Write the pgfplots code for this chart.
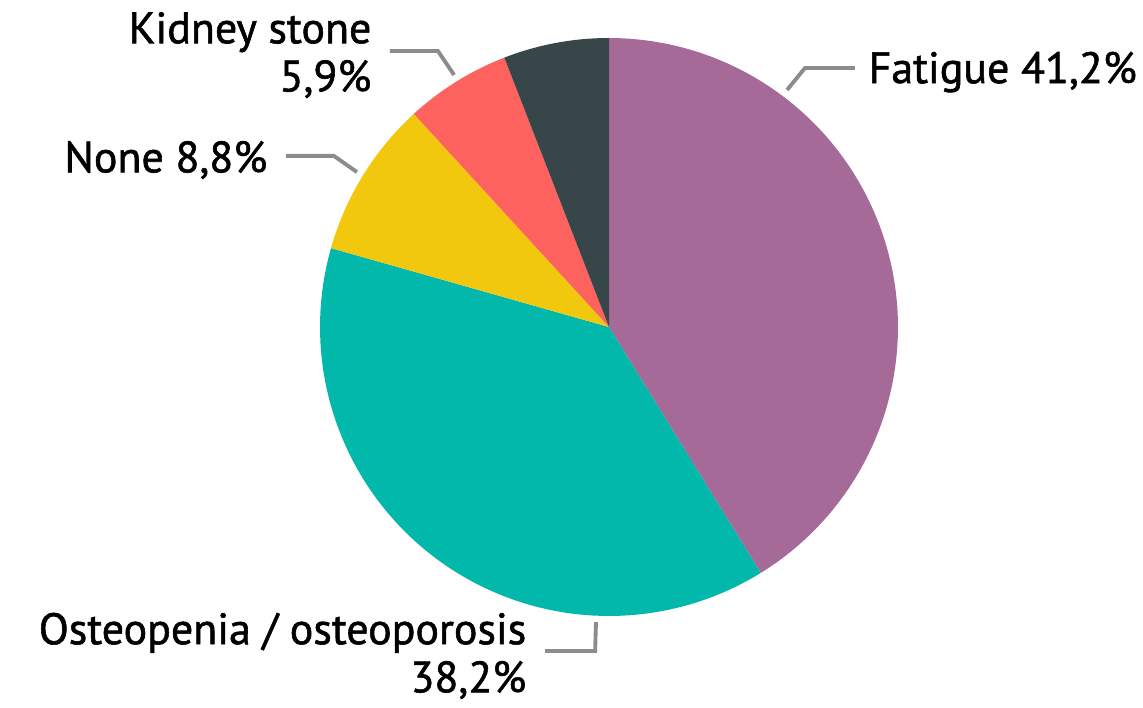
\documentclass[border=0pt]{standalone}
\usepackage{pgfplots}
\pgfplotsset{compat=1.18}
\usepackage{fontspec}
\setmainfont{PT Sans}[FakeBold=1.3]
\definecolor{cFat}{HTML}{A66A99}
\definecolor{cOst}{HTML}{01B8AA}
\definecolor{cNone}{HTML}{F2C80F}
\definecolor{cKid}{HTML}{FD625E}
\definecolor{cDark}{HTML}{374649}
\definecolor{cLine}{HTML}{8C8C8C}
% slice shares in percent, clockwise from the top
\def\pFat{41.2}
\def\pOst{38.2}
\def\pNone{8.8}
\def\pKid{5.9}
\def\pDark{5.9}
\begin{document}
\begin{tikzpicture}
\begin{axis}[
  width=11.43cm, height=7.07cm, scale only axis,
  xmin=-2.1073, xmax=1.8478, ymin=-1.3149, ymax=1.1315,
  hide axis, clip=false,
  samples=80,
]
\path (rel axis cs:0,0) rectangle (rel axis cs:1,1);
\pgfmathsetmacro\aA{90}
\pgfmathsetmacro\aB{\aA-3.6*\pFat}
\pgfmathsetmacro\aC{\aB-3.6*\pOst}
\pgfmathsetmacro\aD{\aC-3.6*\pNone}
\pgfmathsetmacro\aE{\aD-3.6*\pKid}
\pgfmathsetmacro\aF{\aE-3.6*\pDark}
\addplot[draw=none, fill=cFat, domain=\aB:\aA] ({cos(x)},{sin(x)}) -- (axis cs:0,0) -- cycle;
\addplot[draw=none, fill=cOst, domain=\aC:\aB] ({cos(x)},{sin(x)}) -- (axis cs:0,0) -- cycle;
\addplot[draw=none, fill=cNone, domain=\aD:\aC] ({cos(x)},{sin(x)}) -- (axis cs:0,0) -- cycle;
\addplot[draw=none, fill=cKid, domain=\aE:\aD] ({cos(x)},{sin(x)}) -- (axis cs:0,0) -- cycle;
\addplot[draw=none, fill=cDark, domain=\aF:\aE] ({cos(x)},{sin(x)}) -- (axis cs:0,0) -- cycle;
% leader lines
\draw[cLine, line width=1.1pt] (axis cs:0.616,0.820) -- (axis cs:0.678,0.896) -- (axis cs:0.851,0.896);
\draw[cLine, line width=1.1pt] (axis cs:-0.758,0.955) -- (axis cs:-0.592,0.955) -- (axis cs:-0.536,0.872);
\draw[cLine, line width=1.1pt] (axis cs:-1.118,0.592) -- (axis cs:-0.952,0.592) -- (axis cs:-0.872,0.536);
\draw[cLine, line width=1.1pt] (axis cs:-0.221,-1.121) -- (axis cs:-0.048,-1.121) -- (axis cs:-0.045,-1.021);
% labels
\tikzset{lab/.style={font=\fontsize{12.5}{13.7}\selectfont, inner sep=0pt, text=black}}
\node[lab, anchor=west] at (axis cs:0.896,0.882) {Fatigue 41,2\%};
\node[lab, anchor=east, align=right] at (axis cs:-0.820,0.941) {Kidney stone\\5,9\%};
\node[lab, anchor=east] at (axis cs:-1.180,0.578) {None 8,8\%};
\node[lab, anchor=east, align=right] at (axis cs:-0.284,-1.138) {Osteopenia / osteoporosis\\38,2\%};
\end{axis}
\end{tikzpicture}
\end{document}
